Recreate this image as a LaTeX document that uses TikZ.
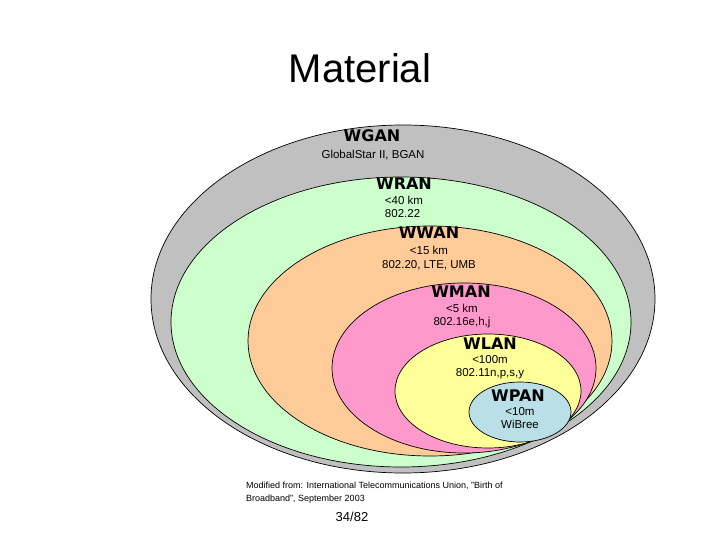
\documentclass[tikz,border=0pt]{standalone}
\usepackage{fontspec}
\setmainfont{Liberation Sans}
\newfontfamily\lblfont{DejaVu Sans}
\begin{document}
\begin{tikzpicture}[x=1pt,y=-1pt,
  ell/.style={draw=black,line width=0.7pt},
  head/.style={font=\lblfont\bfseries\fontsize{16}{16}\selectfont,inner sep=0pt},
  sub/.style={font=\fontsize{11.5}{13.5}\selectfont,inner sep=0pt,align=center}]
\useasboundingbox (0,0) rectangle (720,540);
\fill[white] (0,0) rectangle (720,540);
\definecolor{cgray}{HTML}{C0C0C0}
\definecolor{cgreen}{HTML}{CCFFCC}
\definecolor{corange}{HTML}{FFCC99}
\definecolor{cpink}{HTML}{FF99CC}
\definecolor{cyellow}{HTML}{FFFF99}
\definecolor{cblue}{HTML}{BBDFE6}
\filldraw[ell,fill=cgray] (403,299) ellipse [x radius=252,y radius=174];
\filldraw[ell,fill=cgreen] (401,322) ellipse [x radius=230,y radius=145];
\filldraw[ell,fill=corange] (430,341) ellipse [x radius=182,y radius=115];
\filldraw[ell,fill=cpink] (464,368) ellipse [x radius=132,y radius=85];
\filldraw[ell,fill=cyellow] (488,391) ellipse [x radius=93,y radius=57];
\filldraw[ell,fill=cblue] (520,412) ellipse [x radius=51,y radius=30];

\node[font=\fontsize{40}{40}\selectfont,inner sep=0pt] (title) at (360,68) {Material};

\node[head] (wgan) at (372,136) {WGAN};
\node[sub] (wgant) at (373,155) {GlobalStar II, BGAN};
\node[head] (wran) at (404,184) {WRAN};
\node[sub,align=left] (wrant) at (404,207) {<40 km\\802.22};
\node[head] (wwan) at (429,233) {WWAN};
\node[sub] (wwant) at (429,258) {<15 km\\802.20, LTE, UMB};
\node[head] (wman) at (461,292) {WMAN};
\node[sub] (wmant) at (462,316) {<5 km\\802.16e,h,j};
\node[head] (wlan) at (490,344) {WLAN};
\node[sub] (wlant) at (490,367) {<100m\\802.11n,p,s,y};
\node[head] (wpan) at (518,396) {WPAN};
\node[sub] (wpant) at (520,418) {<10m\\WiBree};

\node[font=\fontsize{9}{13}\selectfont,inner sep=0pt,align=left,anchor=north west] (src) at (246,482) {Modified from: International Telecommunications Union, "Birth of\\Broadband", September 2003};
\node[font=\fontsize{13}{13}\selectfont,inner sep=0pt] (pg) at (352,517) {34/82};
\end{tikzpicture}
\end{document}
